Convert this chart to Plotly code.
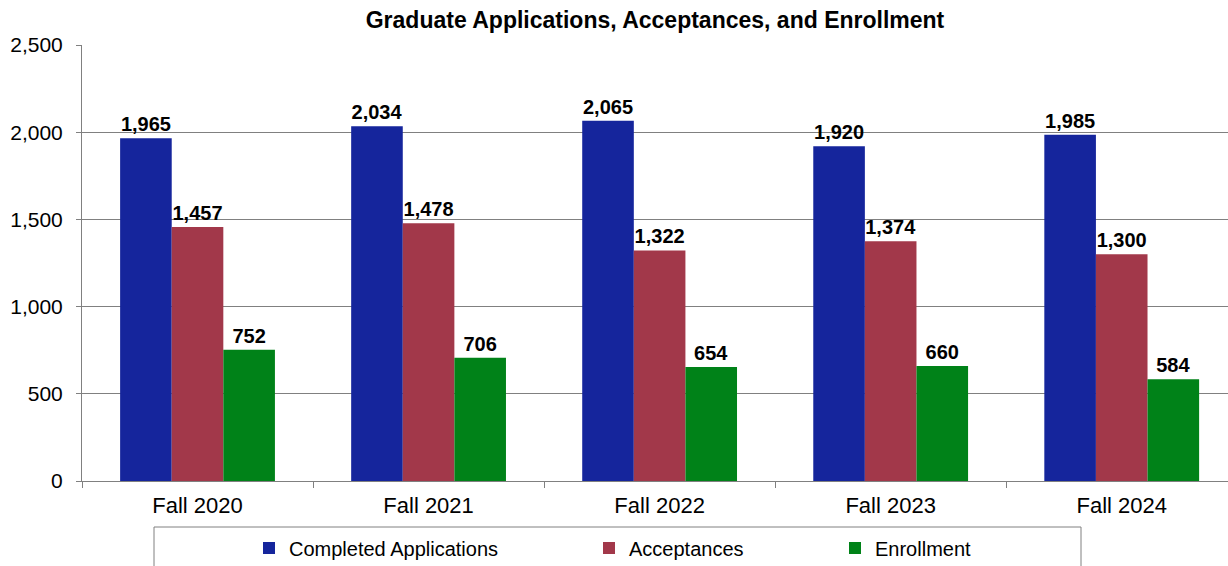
import plotly.graph_objects as go

categories = ["Fall 2020", "Fall 2021", "Fall 2022", "Fall 2023", "Fall 2024"]
applications = [1965, 2034, 2065, 1920, 1985]
acceptances = [1457, 1478, 1322, 1374, 1300]
enrollment = [752, 706, 654, 660, 584]

series = [
    ("Completed Applications", applications, "#15259C", "legend"),
    ("Acceptances", acceptances, "#A2384A", "legend2"),
    ("Enrollment", enrollment, "#008218", "legend3"),
]

FONT = "Liberation Sans, Arial, sans-serif"

fig = go.Figure()
for name, vals, color, lg in series:
    fig.add_trace(go.Bar(
        x=categories, y=vals, name=name,
        marker=dict(color=color, line=dict(width=0)),
        texttemplate="%{y:,}", textposition="outside",
        textfont=dict(family=FONT, size=20, color="#000000", weight="bold"),
        constraintext="none", cliponaxis=False,
        legend=lg, showlegend=True,
    ))

L, R, T, B = 82, 0, 45, 85
W, H = 1228, 566
pw = W - L - R
ph = H - T - B

def px_x(px):
    return (px - L) / pw

def px_y(py):
    return (H - B - py) / ph

leg_common = dict(orientation="h", yanchor="middle", xanchor="left",
                  xref="paper", yref="container", y=1 - 548 / H,
                  font=dict(family=FONT, size=20, color="#000000"),
                  bgcolor="rgba(0,0,0,0)", borderwidth=0, itemclick=False,
                  visible=True)

fig.update_layout(
    width=W, height=H,
    margin=dict(l=L, r=R, t=T, b=B),
    paper_bgcolor="white", plot_bgcolor="white",
    showlegend=True,
    barmode="group", bargap=0.33, bargroupgap=0,
    title=dict(text="<b>Graduate Applications, Acceptances, and Enrollment</b>",
               font=dict(family=FONT, size=23, color="#000000"),
               x=0.5, xref="paper", xanchor="center",
               y=1 - 20 / H, yref="container", yanchor="middle"),
    xaxis=dict(type="category", range=[-0.5, 4.46],
               showline=True, linecolor="#808080", linewidth=1,
               ticks="outside", tickson="boundaries", ticklen=6, tickcolor="#808080",
               tickfont=dict(family=FONT, size=22, color="#000000"),
               ticklabelstandoff=5,
               showgrid=False, automargin=False),
    yaxis=dict(range=[0, 2500], dtick=500, tickformat=",",
               showline=True, linecolor="#808080", linewidth=1,
               ticks="outside", ticklen=5, tickcolor="#808080",
               gridcolor="#808080", gridwidth=1,
               tickfont=dict(family=FONT, size=21, color="#000000"),
               ticklabelstandoff=9,
               zeroline=False, automargin=False),
    legend=dict(x=px_x(249), **leg_common),
    legend2=dict(x=px_x(589), **leg_common),
    legend3=dict(x=px_x(835), **leg_common),
    shapes=[dict(type="rect", xref="paper", yref="paper",
                 x0=px_x(154), x1=px_x(1081), y0=px_y(527), y1=px_y(575),
                 line=dict(color="#808080", width=1), fillcolor="rgba(0,0,0,0)",
                 layer="above")],
)

fig.write_html("out.html", config={"displayModeBar": False},
               post_script="document.body.style.margin='0';document.body.style.padding='0';")
